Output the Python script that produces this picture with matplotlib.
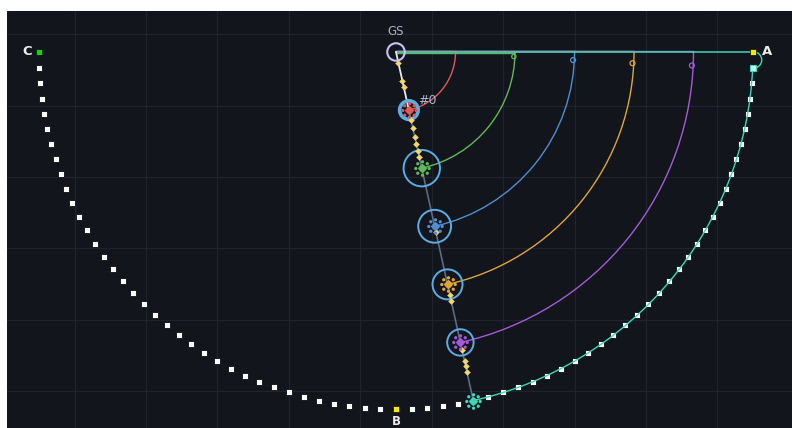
import numpy as np
import matplotlib
matplotlib.use("Agg")
import matplotlib.pyplot as plt
from matplotlib.patches import Arc, Circle
from matplotlib.path import Path

# ---------------- data ----------------
R = 100.0                                   # radius of the outer semicircle
gs_label = "GS"
station_radii = [16.67, 33.33, 50.0, 66.67, 83.33, 100.0]
station_angle = -77.5                       # direction of the station line (deg)
traj_colors = ["#e05a5a", "#62b85a", "#4f8fcf", "#e0a53a", "#a45ad6", "#3fd6b8"]
ring_radii = [2.6, 5.1, 4.6, 4.2, 3.7, 0.0]
ring_widths = [2.6, 1.4, 1.4, 1.4, 1.4, 0.0]
loop_angles = [None, -2.2, -2.6, -2.7, -2.6, None]
loop_sizes = [0.0, 0.6, 0.7, 0.7, 0.7, 0.0]
hline_offsets = [0.2, -0.15, 0.25, 0.15, 0.2]
yellow_radii = [3.2, 8.3, 10.1, 19.5, 21.7, 24.5, 26.5, 28.5, 30.0,
                51.7, 69.7, 71.5, 85.5, 88.7, 90.2, 91.9]
left_arc_angles = [182.5, 185.0, 187.5, 190.0, 192.5, 195.0, 197.5, 200.0,
                   202.5, 205.0, 207.5, 210.0, 212.5, 215.0, 217.5, 220.0,
                   222.5, 225.0, 227.5, 230.0, 232.5, 235.0, 237.5, 240.0,
                   242.5, 245.0, 247.5, 250.0, 252.5, 255.0, 257.5, 260.0,
                   262.5, 265.0, 267.5]
right_arc_angles = [272.5, 275.0, 277.5, 280.0, 285.0, 287.5, 290.0, 292.5,
                    295.0, 297.5, 300.0, 302.5, 305.0, 307.5, 310.0, 312.5,
                    315.0, 317.5, 320.0, 322.5, 325.0, 327.5, 330.0, 332.5,
                    335.0, 337.5, 340.0, 342.5, 345.0, 347.5, 350.0, 352.5,
                    355.0]
last_angle = 357.5
corner_labels = ["C", "B", "A"]
corner_angles = [180.0, 270.0, 0.0]
corner_colors = ["#00dd00", "#f2ea00", "#f2ea00"]
station_text = "#0"

# ---------------- figure ----------------
W, H = 792, 428
fig = plt.figure(figsize=(W / 100, H / 100), dpi=100, facecolor="white")
ax = fig.add_axes([7 / W, 0, (W - 7) / W, (H - 11) / H])
bg = "#12151c"
ax.set_facecolor(bg)
ax.set_xlim(-108.96, 110.92)
ax.set_ylim(-105.32, 11.48)
ax.set_aspect("equal", adjustable="box")
ax.set_xticks([-90, -70, -50, -30, -10, 10, 30, 50, 70, 90])
ax.set_yticks([5, -15, -35, -55, -75, -95])
ax.grid(True, color="#1f232c", lw=0.9)
ax.tick_params(length=0, labelbottom=False, labelleft=False)
for s in ax.spines.values():
    s.set_visible(False)
ax.set_axisbelow(True)


def pol(r, a):
    t = np.deg2rad(a)
    return r * np.cos(t), r * np.sin(t)


# outer semicircle squares
lx, ly = pol(R, np.array(left_arc_angles))
ax.plot(lx, ly, "s", ms=4.0, mfc="white", mec="#0b0d12", mew=0.6, zorder=3)
rx, ry = pol(R, np.array(right_arc_angles))
ax.plot(rx, ry, "s", ms=4.0, mfc="white", mec="#0b0d12", mew=0.6, zorder=3)
qx, qy = pol(R, last_angle)
ax.plot([qx], [qy], "s", ms=4.0, mfc="#c8f5ec", mec="#3fd6b8", mew=0.8, zorder=5)

# horizontal overlapped segments of the trajectories
for r, c, off in zip(station_radii[:-1], traj_colors[:-1], hline_offsets):
    ax.plot([0, r], [off, off], color=c, lw=1.0, zorder=2,
            solid_capstyle="butt")
ax.plot([0, R], [0, 0], color=traj_colors[-1], lw=1.1, zorder=2.6)

# trajectory arcs
for i, (r, c) in enumerate(zip(station_radii, traj_colors)):
    t2 = -2.5 if i == len(station_radii) - 1 else 0.0
    ax.add_patch(Arc((0, 0), 2 * r, 2 * r, theta1=station_angle, theta2=t2,
                     color=c, lw=1.0, zorder=4 if i == 5 else 2))
    if loop_angles[i] is not None:
        lxp, lyp = pol(r, loop_angles[i])
        ax.add_patch(Circle((lxp - loop_sizes[i] * 0.5, lyp), loop_sizes[i],
                            fill=False, ec=c, lw=0.9, zorder=2))
# teal curl near A
ax.add_patch(Arc((R + 0.2, -2.24), 4.48, 4.48, theta1=-90, theta2=90,
                 color=traj_colors[-1], lw=1.0, zorder=4))

# station line
sx, sy = pol(np.array(station_radii), station_angle)
ax.plot([0, sx[0]], [0, sy[0]], color="#e8e8ee", lw=1.3, zorder=3)
ax.plot([sx[0], sx[-1]], [sy[0], sy[-1]], color="#5e6b80", lw=1.2, zorder=3)

# yellow diamonds
yx, yy = pol(np.array(yellow_radii), station_angle)
ax.plot(yx, yy, "D", ms=3.0, mfc="#f3d66a", mec="#f3d66a", mew=0.3, zorder=6)

# rings
for i in range(len(station_radii)):
    if ring_radii[i] > 0:
        ax.add_patch(Circle((sx[i], sy[i]), ring_radii[i], fill=False,
                            ec="#5aaee6", lw=ring_widths[i], zorder=5))

# cluster markers
parts = [Path.circle((0, 0), 0.36)]
for a in np.deg2rad([0, 45, 90, 135, 180, 225, 270, 315]):
    parts.append(Path.circle((0.85 * np.cos(a), 0.85 * np.sin(a)), 0.12))
cluster = Path.make_compound_path(*parts)
for i, c in enumerate(traj_colors):
    ax.plot([sx[i]], [sy[i]], marker=cluster, ms=11, color=c, ls="none", zorder=7)
    ax.plot([sx[i]], [sy[i]], marker="D", ms=4.5, mfc="none", mec=c, mew=0.9,
            ls="none", zorder=7)

# GS
ax.add_patch(Circle((0, 0), 2.45, fill=False, ec="#c9c2f2", lw=1.5, zorder=6))
ax.text(0, 5.6, gs_label, color="#a9b0c8", fontsize=8.5, ha="center",
        va="center", zorder=8)
ax.text(sx[0] + 5.2, sy[0] + 2.7, station_text, color="#b0b4cc", fontsize=9,
        ha="center", va="center", zorder=8)

# corners
offs = [(-1.9, 0, "right", "center"), (0, -1.6, "center", "top"),
        (2.4, 0, "left", "center")]
for lab, ang, col, (dx, dy, ha, va) in zip(corner_labels, corner_angles,
                                          corner_colors, offs):
    cx, cy = pol(R, ang)
    ax.plot([cx], [cy], "s", ms=4.2, mfc=col, mec="#0b0d12", mew=0.5, zorder=6)
    ax.text(cx + dx, cy + dy, lab, color="#ececec",
            fontsize=8.5 if lab == "B" else 9.5, fontweight="bold",
            ha=ha, va=va, zorder=8)

fig.savefig("out.png", dpi=100, facecolor="white")
